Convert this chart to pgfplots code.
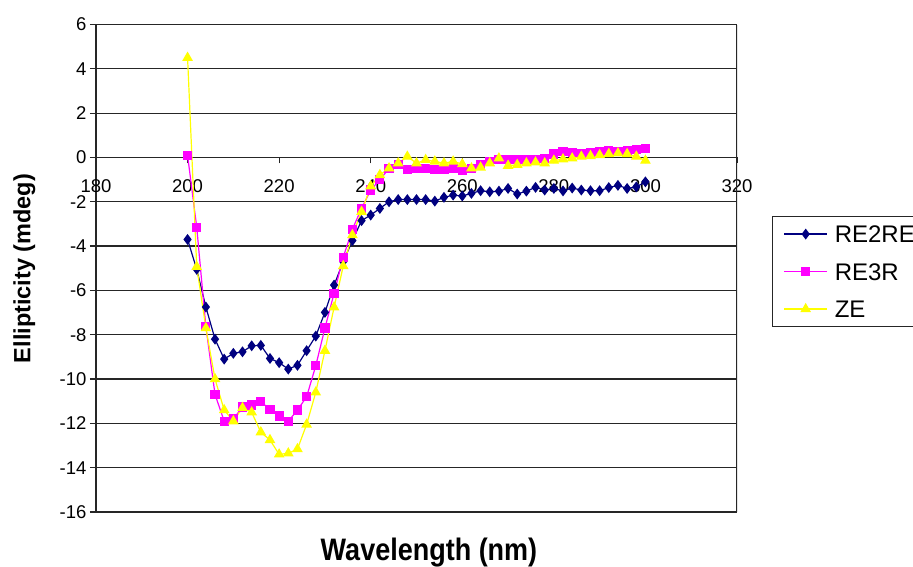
\documentclass[border=0pt]{standalone}
\usepackage{fontspec}
\setmainfont{Liberation Sans}
\usepackage{pgfplots}
\pgfplotsset{compat=1.18}

\definecolor{renavy}{RGB}{0,0,128}
\definecolor{remag}{RGB}{255,0,255}
\definecolor{zeyel}{RGB}{255,255,0}

% CD spectra, values (every 2 nm, 200-300)
\pgfplotstableread{
wl   re2re   re3r    ze
200  -3.70   0.10   4.50
202  -5.05  -3.15  -4.93
204  -6.75  -7.64  -7.70
206  -8.20 -10.70 -10.00
208  -9.10 -11.90 -11.40
210  -8.84 -11.80 -11.90
212  -8.77 -11.26 -11.30
214  -8.50 -11.17 -11.50
216  -8.48 -11.02 -12.40
218  -9.07 -11.37 -12.75
220  -9.26 -11.67 -13.40
222  -9.55 -11.90 -13.35
224  -9.38 -11.40 -13.16
226  -8.72 -10.80 -12.05
228  -8.06  -9.40 -10.60
230  -6.99  -7.70  -8.72
232  -5.76  -6.13  -6.76
234  -4.70  -4.50  -4.90
236  -3.75  -3.24  -3.50
238  -2.85  -2.30  -2.45
240  -2.60  -1.47  -1.30
242  -2.30  -1.00  -0.79
244  -2.00  -0.50  -0.49
246  -1.90  -0.30  -0.26
248  -1.90  -0.55   0.04
250  -1.90  -0.50  -0.26
252  -1.90  -0.49  -0.11
254  -1.97  -0.56  -0.18
256  -1.80  -0.56  -0.26
258  -1.70  -0.50  -0.18
260  -1.74  -0.59  -0.30
262  -1.62  -0.49  -0.49
264  -1.50  -0.34  -0.45
266  -1.55  -0.19  -0.26
268  -1.52  -0.11  -0.04
270  -1.40  -0.08  -0.37
272  -1.65  -0.11  -0.33
274  -1.52  -0.08  -0.26
276  -1.35  -0.08  -0.22
278  -1.47  -0.04  -0.26
280  -1.40   0.16  -0.14
282  -1.51   0.26  -0.08
284  -1.38   0.22  -0.04
286  -1.47   0.16   0.04
288  -1.50   0.22   0.07
290  -1.50   0.26   0.11
292  -1.36   0.31   0.16
294  -1.26   0.26   0.19
296  -1.40   0.31   0.16
298  -1.33   0.37   0.04
300  -1.10   0.40  -0.14
}\cddata

\begin{document}
\begin{tikzpicture}
\useasboundingbox (-96pt,-54pt) rectangle (817pt,512pt);
\begin{axis}[
  at={(0,0)}, anchor=south west,
  scale only axis,
  width=641pt, height=487.5pt,
  xmin=180, xmax=320, ymin=-16, ymax=6,
  axis x line=middle, axis y line=left,
  axis line style={-, black!85, line width=1.2pt},
  xtick={180,200,...,320},
  ytick={-16,-14,...,6},
  tick align=outside,
  major tick length=6pt,
  tick style={black!85, line width=1.2pt},
  hide obscured x ticks=false, hide obscured y ticks=false,
  ymajorgrids,
  grid style={black!85, line width=1.2pt},
  ticklabel style={font=\fontsize{18.5}{20}\selectfont},
  xticklabel style={yshift=-13pt},
  /pgf/number format/assume math mode=true,
  xlabel={Wavelength (nm)},
  ylabel={Ellipticity (mdeg)},
  every axis x label/.style={at={(axis description cs:0.5195,-0.084)}, anchor=center,
    yscale=1.15, font=\fontsize{27}{30}\selectfont\bfseries},
  every axis y label/.style={at={(axis description cs:-0.1117,0.4995)}, anchor=center,
    rotate=90, font=\fontsize{23.5}{25}\selectfont\bfseries},
  legend cell align=left,
  legend image code/.code={\draw[line width=1.2pt, mark repeat=2, mark phase=2]
    plot coordinates {(0pt,0pt) (21.5pt,0pt) (43pt,0pt)};},
  legend style={at={(axis description cs:1.0546,0.6072)}, anchor=north west,
    draw=black!85, line width=1.2pt, fill=white,
    font=\fontsize{24}{26}\selectfont,
    inner xsep=11pt, inner ysep=9pt, row sep=20.5pt, column sep=7pt,
    nodes={inner sep=0pt, text height=17pt, text depth=0pt}},
]
\draw[black!85, line width=1.2pt] (rel axis cs:1,0) -- (rel axis cs:1,1);

\addplot[color=renavy, line width=1.2pt, mark=diamond*, mark size=4.5pt,
  mark options={solid, fill=renavy, draw=renavy}]
  table[x=wl, y=re2re] {\cddata};
\addlegendentry{RE2RE}

\addplot[color=remag, line width=1.2pt, mark=square*, mark size=4pt,
  mark options={solid, fill=remag, draw=remag}]
  table[x=wl, y=re3r] {\cddata};
\addlegendentry{RE3R}

\addplot[color=zeyel, line width=1.2pt, mark=triangle*, mark size=5pt,
  mark options={solid, fill=zeyel, draw=zeyel}]
  table[x=wl, y=ze] {\cddata};
\addlegendentry{ZE}
\end{axis}
\end{tikzpicture}
\end{document}
